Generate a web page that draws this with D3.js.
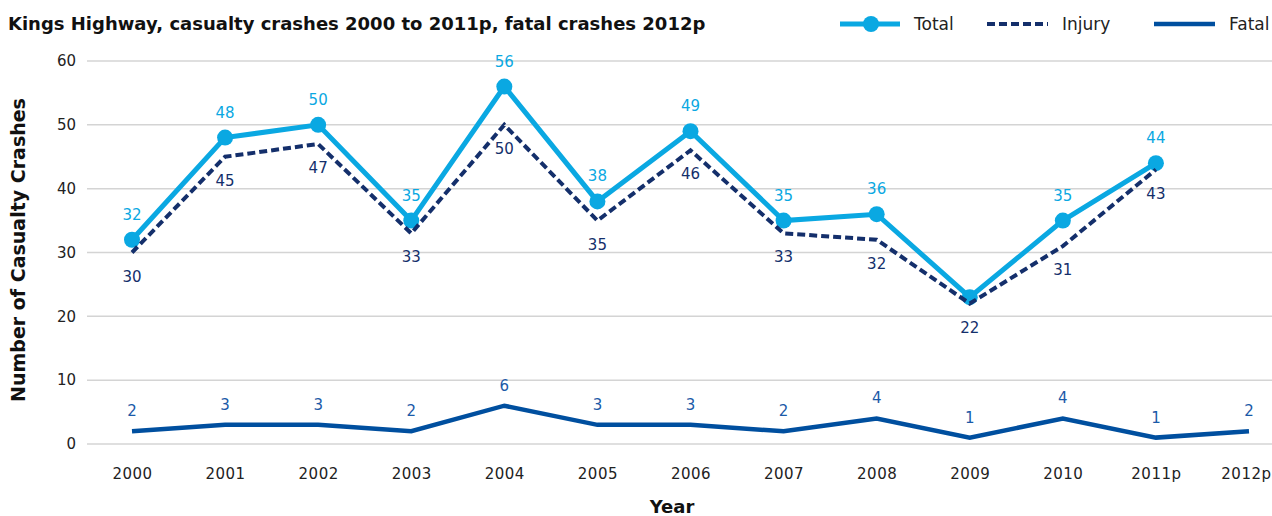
<!DOCTYPE html>
<html>
<head>
<meta charset="utf-8">
<script src="https://cdn.jsdelivr.net/npm/d3@7"></script>
<style>
  body { margin: 0; background: #fff; }
  text { font-family: "DejaVu Sans", sans-serif; }
</style>
</head>
<body>
<div class="chart"></div>
<script>
// Kings Highway casualty crashes line chart

var years = ["2000", "2001", "2002", "2003", "2004", "2005", "2006", "2007", "2008", "2009", "2010", "2011p", "2012p"];
var totalValues = [32, 48, 50, 35, 56, 38, 49, 35, 36, 23, 35, 44];
var injuryValues = [30, 45, 47, 33, 50, 35, 46, 33, 32, 22, 31, 43];
var fatalValues = [2, 3, 3, 2, 6, 3, 3, 2, 4, 1, 4, 1, 2];
var yTicks = [0, 10, 20, 30, 40, 50, 60];
var hiddenTotalLabels = ["2009"];

var svgWidth = 1272;
var svgHeight = 516;

var colTotal = "#0aa8e2";
var colInjury = "#142f6b";
var colFatal = "#004f9f";

var svg = d3.select(".chart")
  .append("svg")
  .attr("width", svgWidth)
  .attr("height", svgHeight);

var xScale = d3.scalePoint()
  .domain(years)
  .range([132, 1249]);

var yScale = d3.scaleLinear()
  .domain([0, 60])
  .range([444, 61]);

// gridlines
svg.append("g")
  .selectAll("line")
  .data(yTicks)
  .enter()
  .append("line")
  .attr("x1", 87)
  .attr("x2", svgWidth)
  .attr("y1", d => yScale(d))
  .attr("y2", d => yScale(d))
  .attr("stroke", "#d4d4d4")
  .attr("stroke-width", 1.5);

// y axis labels
var leftAxis = d3.axisLeft(yScale).tickValues(yTicks).tickSize(0).tickPadding(0);
var yAxis = svg.append("g")
  .attr("transform", "translate(76, 0)")
  .call(leftAxis);
yAxis.select(".domain").remove();
yAxis.selectAll("text")
  .attr("font-size", "15px")
  .attr("fill", "#222")
  .attr("font-family", "DejaVu Sans, sans-serif");

// x axis labels
var bottomAxis = d3.axisBottom(xScale).tickSize(0).tickPadding(0);
var xAxis = svg.append("g")
  .attr("transform", "translate(0, 468)")
  .call(bottomAxis);
xAxis.select(".domain").remove();
xAxis.selectAll("text")
  .attr("font-size", "15px")
  .attr("letter-spacing", "0.5px")
  .attr("fill", "#222")
  .attr("font-family", "DejaVu Sans, sans-serif");
// keep the last label inside the window
xAxis.selectAll(".tick").each(function(d) {
  var t = d3.select(this).select("text");
  var right = xScale(d) + t.node().getComputedTextLength() / 2;
  if (right > svgWidth - 1) t.attr("dx", (svgWidth - 1 - right) + "px");
});

function series(values) {
  return values.map((v, i) => ({ year: years[i], value: v }));
}

var line = d3.line()
  .x(d => xScale(d.year))
  .y(d => yScale(d.value));

var totalData = series(totalValues);
var injuryData = series(injuryValues);
var fatalData = series(fatalValues);

// fatal line
svg.append("path")
  .datum(fatalData)
  .attr("d", line)
  .attr("fill", "none")
  .attr("stroke", colFatal)
  .attr("stroke-width", 4.5);

// total line + markers
svg.append("path")
  .datum(totalData)
  .attr("d", line)
  .attr("fill", "none")
  .attr("stroke", colTotal)
  .attr("stroke-width", 5);

svg.append("g")
  .selectAll("circle")
  .data(totalData)
  .enter()
  .append("circle")
  .attr("cx", d => xScale(d.year))
  .attr("cy", d => yScale(d.value))
  .attr("r", 8)
  .attr("fill", colTotal);

// injury dashed line (drawn over total)
svg.append("path")
  .datum(injuryData)
  .attr("d", line)
  .attr("fill", "none")
  .attr("stroke", colInjury)
  .attr("stroke-width", 4)
  .attr("stroke-dasharray", "8,4");

// data labels
svg.append("g")
  .selectAll("text")
  .data(totalData.filter(d => hiddenTotalLabels.indexOf(d.year) < 0))
  .enter()
  .append("text")
  .attr("x", d => xScale(d.year))
  .attr("y", d => yScale(d.value) - 20)
  .attr("text-anchor", "middle")
  .attr("font-size", "15px")
  .attr("fill", colTotal)
  .text(d => d.value);

svg.append("g")
  .selectAll("text")
  .data(injuryData)
  .enter()
  .append("text")
  .attr("x", d => xScale(d.year))
  .attr("y", d => yScale(d.value) + 29)
  .attr("text-anchor", "middle")
  .attr("font-size", "15px")
  .attr("fill", colInjury)
  .text(d => d.value);

svg.append("g")
  .selectAll("text")
  .data(fatalData)
  .enter()
  .append("text")
  .attr("x", d => xScale(d.year))
  .attr("y", d => yScale(d.value) - 15)
  .attr("text-anchor", "middle")
  .attr("font-size", "15px")
  .attr("fill", "#1b5aa8")
  .text(d => d.value);

// title
svg.append("text")
  .attr("x", 8)
  .attr("y", 30)
  .attr("font-size", "18px")
  .attr("font-weight", "bold")
  .attr("fill", "#111")
  .text("Kings Highway, casualty crashes 2000 to 2011p, fatal crashes 2012p");

// axis titles
svg.append("text")
  .attr("transform", "rotate(-90)")
  .attr("x", -250)
  .attr("y", 25)
  .attr("text-anchor", "middle")
  .attr("font-size", "19px")
  .attr("font-weight", "bold")
  .attr("fill", "#111")
  .text("Number of Casualty Crashes");

svg.append("text")
  .attr("x", 672)
  .attr("y", 513)
  .attr("text-anchor", "middle")
  .attr("font-size", "18px")
  .attr("font-weight", "bold")
  .attr("fill", "#111")
  .text("Year");

// legend
var legend = svg.append("g");
legend.append("line")
  .attr("x1", 840).attr("x2", 900).attr("y1", 24).attr("y2", 24)
  .attr("stroke", colTotal).attr("stroke-width", 5);
legend.append("circle")
  .attr("cx", 871).attr("cy", 24).attr("r", 8).attr("fill", colTotal);
legend.append("text")
  .attr("x", 914).attr("y", 30).attr("font-size", "17px").attr("fill", "#222").text("Total");

legend.append("line")
  .attr("x1", 987).attr("x2", 1048).attr("y1", 24).attr("y2", 24)
  .attr("stroke", colInjury).attr("stroke-width", 4).attr("stroke-dasharray", "8,4");
legend.append("text")
  .attr("x", 1062).attr("y", 30).attr("font-size", "17px").attr("fill", "#222").text("Injury");

legend.append("line")
  .attr("x1", 1154).attr("x2", 1215).attr("y1", 24).attr("y2", 24)
  .attr("stroke", colFatal).attr("stroke-width", 4.5);
legend.append("text")
  .attr("x", 1229).attr("y", 30).attr("font-size", "17px").attr("fill", "#222").text("Fatal");
</script>
</body>
</html>
